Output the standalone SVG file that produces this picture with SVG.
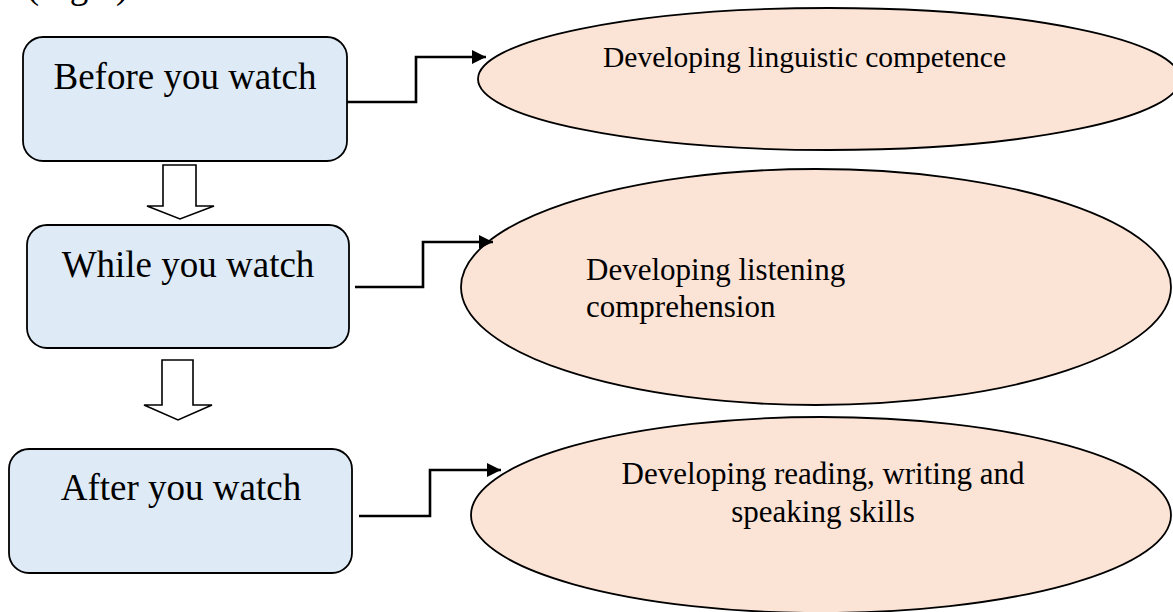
<svg xmlns="http://www.w3.org/2000/svg" width="1173" height="612" viewBox="0 0 1173 612">
<style>
.box{fill:#DEEAF6;stroke:#000;stroke-width:1.8}
.ell{fill:#FBE3D6;stroke:#000;stroke-width:1.8}
.hollow{fill:#fff;stroke:#000;stroke-width:1.6;stroke-linejoin:miter}
.conn{fill:none;stroke:#000;stroke-width:2.6}
.bt{font-family:"Liberation Serif","Times New Roman",serif;font-size:37px;fill:#000;text-anchor:middle}
.et{font-family:"Liberation Serif","Times New Roman",serif;font-size:31px;fill:#000}
</style>
<defs>
<marker id="ah" markerUnits="userSpaceOnUse" markerWidth="16" markerHeight="16" refX="14" refY="7" orient="auto">
<path d="M0,0 L14,7 L0,14 Z" fill="#000"/>
</marker>
</defs>
<rect width="1173" height="612" fill="#fff"/>
<text x="1" y="-2" style="font-family:'Liberation Serif','Times New Roman',serif;font-size:37px;fill:#000">e (Fig.1).</text>

<g id="before">
<rect class="box" x="23" y="37" width="324" height="124" rx="20"/>
<text class="bt" x="185" y="89">Before you watch</text>
</g>
<g id="while">
<rect class="box" x="27" y="225" width="322" height="123" rx="20"/>
<text class="bt" x="188" y="277">While you watch</text>
</g>
<g id="after">
<rect class="box" x="9" y="449" width="343" height="124" rx="20"/>
<text class="bt" x="181" y="500">After you watch</text>
</g>

<g id="flow-arrows">
<path class="hollow" d="M163,165 H196 V206 H214 L180,219 L147,206 H163 Z"/>
<path class="hollow" d="M162,360 H193 V405 H212 L178,420 L144,405 H162 Z"/>
</g>

<g id="linguistic">
<ellipse class="ell" cx="829" cy="79" rx="351" ry="71"/>
<text class="et" x="603" y="67" style="font-size:29.5px">Developing linguistic competence</text>
</g>
<g id="listening">
<ellipse class="ell" cx="816" cy="287" rx="355" ry="118"/>
<text class="et" x="586" y="280">Developing listening</text>
<text class="et" x="586" y="317">comprehension</text>
</g>
<g id="skills">
<ellipse class="ell" cx="821" cy="515" rx="350" ry="98"/>
<text class="et" x="823" y="484" text-anchor="middle">Developing reading, writing and</text>
<text class="et" x="823" y="522" text-anchor="middle">speaking skills</text>
</g>

<g id="connectors">
<path class="conn" d="M347,102 H416 V57 H486" marker-end="url(#ah)"/>
<path class="conn" d="M355,287 H423 V242 H493" marker-end="url(#ah)"/>
<path class="conn" d="M359,516 H430 V470 H501" marker-end="url(#ah)"/>
</g>
</svg>
